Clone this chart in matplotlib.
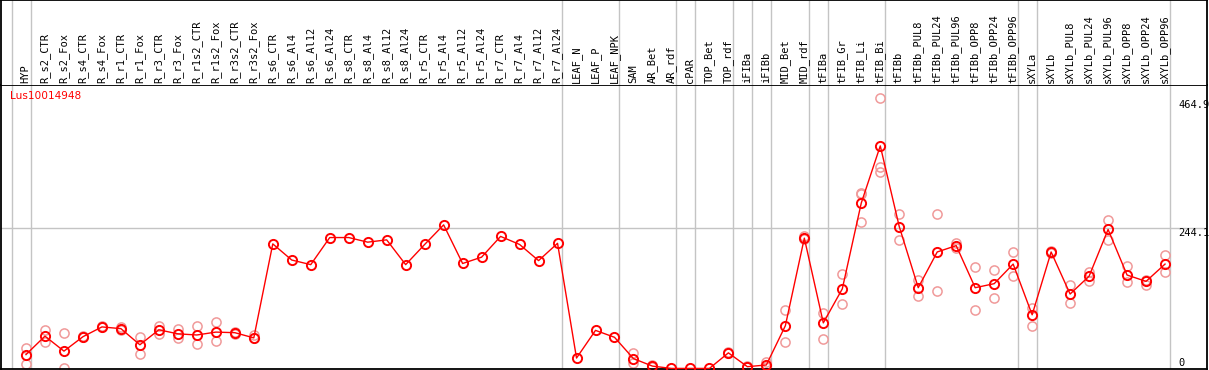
import matplotlib
matplotlib.use("Agg")
import matplotlib.pyplot as plt
import matplotlib.transforms as mtransforms

gene = "Lus10014948"

labels = ["HYP", "R_s2_CTR", "R_s2_Fox", "R_s4_CTR", "R_s4_Fox", "R_r1_CTR", "R_r1_Fox",
          "R_r3_CTR", "R_r3_Fox", "R_r1s2_CTR", "R_r1s2_Fox", "R_r3s2_CTR", "R_r3s2_Fox",
          "R_s6_CTR", "R_s6_Al4", "R_s6_Al12", "R_s6_Al24", "R_s8_CTR", "R_s8_Al4",
          "R_s8_Al12", "R_s8_Al24", "R_r5_CTR", "R_r5_Al4", "R_r5_Al12", "R_r5_Al24",
          "R_r7_CTR", "R_r7_Al4", "R_r7_Al12", "R_r7_Al24", "LEAF_N", "LEAF_P", "LEAF_NPK",
          "SAM", "AR_Bet", "AR_rdf", "cPAR", "TOP_Bet", "TOP_rdf", "iFIBa", "iFIBb",
          "MID_Bet", "MID_rdf", "tFIBa", "tFIB_Gr", "tFIB_Li", "tFIB_Bi", "tFIBb",
          "tFIBb_PUL8", "tFIBb_PUL24", "tFIBb_PUL96", "tFIBb_OPP8", "tFIBb_OPP24",
          "tFIBb_OPP96", "sXYLa", "sXYLb", "sXYLb_PUL8", "sXYLb_PUL24", "sXYLb_PUL96",
          "sXYLb_OPP8", "sXYLb_OPP24", "sXYLb_OPP96"]

means = [24, 56, 30, 55, 72, 69, 41, 67, 60, 58, 63, 62, 53,
         216, 188, 180, 227, 227, 219, 223, 180, 215, 249, 182, 193,
         229, 215, 187, 217, 18, 66, 54,
         17, 4, 0, 0, 0, 27, 3, 6,
         74, 226, 79, 138, 287, 386, 246,
         140, 202, 213, 140, 147, 181,
         93, 202, 129, 160, 241, 162, 151, 181]

replicates = [[36, 8], [66, 46], [62, 0], [57, 54], [73, 71], [71, 67], [55, 25],
              [73, 60], [69, 52], [73, 43], [80, 48], [63, 60], [58, 52],
              [], [], [], [], [], [], [], [], [], [], [], [],
              [], [], [], [], [], [], [],
              [27, 9], [6, 2], [], [], [], [28, 26], [4, 2], [11, 2],
              [102, 46], [230, 224], [96, 51], [164, 112], [305, 303, 254], [469, 349, 340], [268, 223],
              [154, 125], [268, 135], [217, 209], [176, 101], [171, 122], [202, 160],
              [105, 73], [204, 200], [145, 114], [168, 152], [258, 223], [177, 150], [154, 145], [196, 168]]

# group separators sit just after these columns
breaks = [0, 1, 29, 32, 35, 36, 38, 39, 40, 42, 43, 46, 53, 54, 61]

y_ticks = [0, 244.1, 464.9]

W, H = 1209, 370
fig = plt.figure(figsize=(W / 100, H / 100), dpi=100)
fig.patch.set_facecolor("white")

xmin = 1 - 25 / 19
xmax = xmin + 1207 / 19
ymax = 284 / 0.5777

ax = fig.add_axes([1 / W, 1 / H, 1206 / W, 284 / H])
top = fig.add_axes([1 / W, 285 / H, 1206 / W, 85 / H])

grey = "#c4c4c4"
for a in (ax, top):
    a.set_xlim(xmin, xmax)
    a.set_xticks([])
    a.set_yticks([])
    for b in breaks:
        a.axvline(b + 0.25, color=grey, lw=1.0, zorder=1)
    for s in a.spines.values():
        s.set_color("black")
        s.set_linewidth(1.3)

ax.set_ylim(-1, ymax)
top.set_ylim(0, 85)
top.spines["bottom"].set_visible(False)

ax.axhline(244.1, color=grey, lw=1.0, zorder=1)

xs = list(range(1, len(labels) + 1))

mono = "DejaVu Sans Mono"
for x, lab in zip(xs, labels):
    top.text(x - 0.02, 2, lab, rotation=90, ha="center", va="bottom",
             fontsize=7.5, family=mono, color="black")

# replicate points
rx, ry = [], []
for x, vals in zip(xs, replicates):
    for v in vals:
        rx.append(x)
        ry.append(v)
ax.plot(rx, ry, ls="none", marker="o", ms=6.6, mfc="none", mec="#f09a9a",
        mew=1.1, zorder=2, clip_on=False)

ax.plot(xs, means, color="red", lw=1.0, marker="o", ms=6.6, mfc="none",
        mec="red", mew=1.4, zorder=3, clip_on=False)

tr = mtransforms.blended_transform_factory(ax.transAxes, ax.transData)
for t in y_ticks:
    txt = "0" if t == 0 else f"{t:.1f}"
    ax.text(1177 / 1206, t, txt, transform=tr, ha="left",
            va="bottom" if t == 0 else "top", fontsize=7.5, family=mono)

fig.text(10 / W, 1 - 91 / H, gene, color="red", fontsize=7.6,
         family="DejaVu Sans", ha="left", va="top")

fig.savefig("out.png", dpi=100)
